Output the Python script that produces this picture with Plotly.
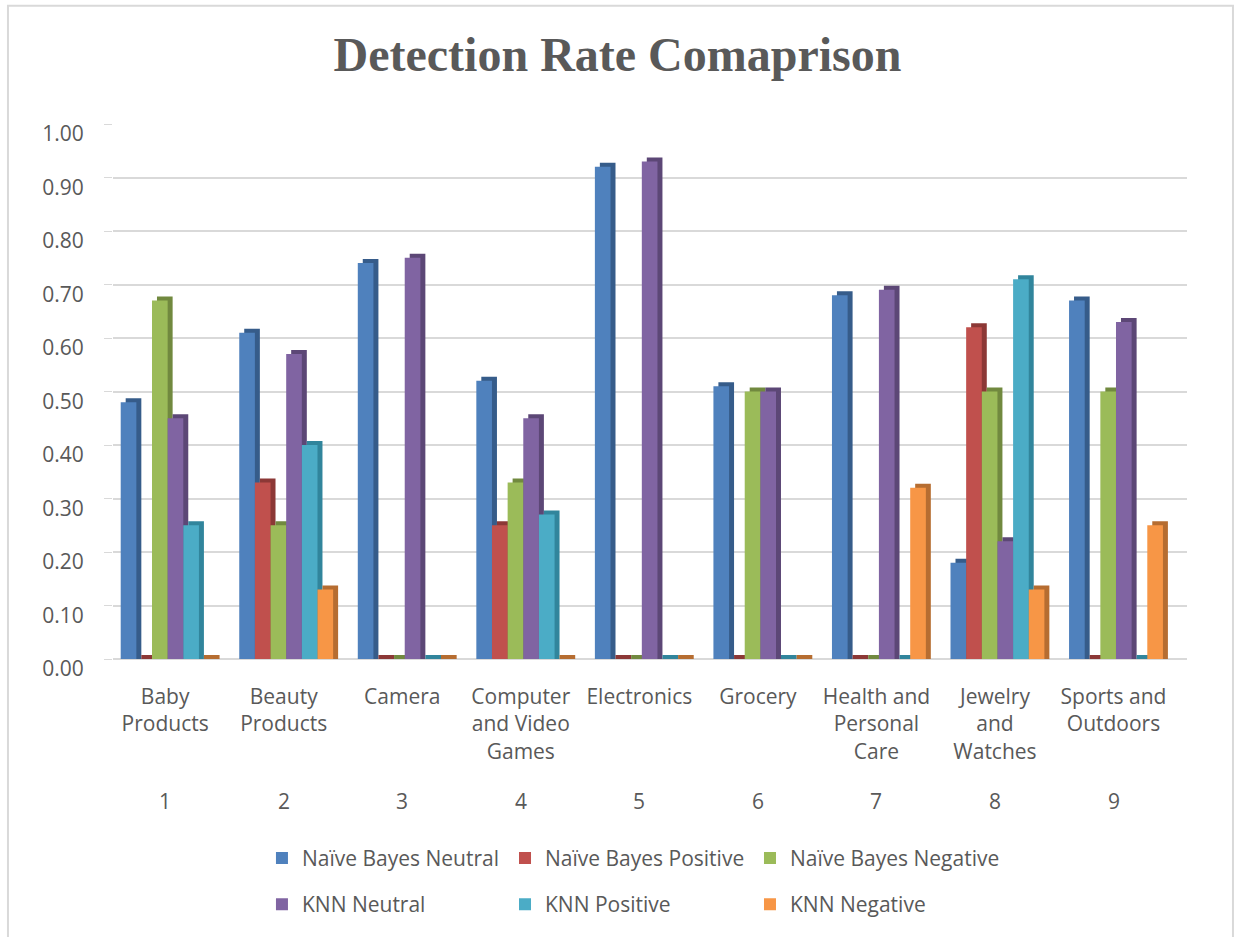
import plotly.graph_objects as go

# ---- data -------------------------------------------------------------
categories = ["Baby<br>Products", "Beauty<br>Products", "Camera",
              "Computer<br>and Video<br>Games", "Electronics", "Grocery",
              "Health and<br>Personal<br>Care", "Jewelry<br>and<br>Watches",
              "Sports and<br>Outdoors"]
category_numbers = ["1", "2", "3", "4", "5", "6", "7", "8", "9"]

series_names = ["Naïve Bayes Neutral", "Naïve Bayes Positive", "Naïve Bayes Negative",
                "KNN Neutral", "KNN Positive", "KNN Negative"]

nb_neutral = [0.48, 0.61, 0.74, 0.52, 0.92, 0.51, 0.68, 0.18, 0.67]
nb_positive = [0.00, 0.33, 0.00, 0.25, 0.00, 0.00, 0.00, 0.62, 0.00]
nb_negative = [0.67, 0.25, 0.00, 0.33, 0.00, 0.50, 0.00, 0.50, 0.50]
knn_neutral = [0.45, 0.57, 0.75, 0.45, 0.93, 0.50, 0.69, 0.22, 0.63]
knn_positive = [0.25, 0.40, 0.00, 0.27, 0.00, 0.00, 0.00, 0.71, 0.00]
knn_negative = [0.00, 0.13, 0.00, 0.00, 0.00, 0.00, 0.32, 0.13, 0.25]

y_ticks = [0.0, 0.1, 0.2, 0.3, 0.4, 0.5, 0.6, 0.7, 0.8, 0.9, 1.0]

# ---- styling ----------------------------------------------------------
front_colors = ["#4F81BD", "#C0504D", "#9BBB59", "#8064A2", "#4BACC6", "#F79646"]
depth_colors = ["#365C8A", "#8C3836", "#71893F", "#5C4776", "#31859C", "#B66D31"]
text_color = "#595959"
grid_color = "#D9D9D9"
font_family = "Open Sans"
font_size = 21

bar_w = 0.132          # width of each column (category units)
first_offset = -0.375  # left edge of the first column relative to the category
depth_dx = 0.042       # 3-D depth, horizontal (category units)
depth_dy = 0.0075      # 3-D depth, vertical (value units)

all_series = [nb_neutral, nb_positive, nb_negative, knn_neutral, knn_positive, knn_negative]
x_pos = list(range(1, len(categories) + 1))
legend_ids = ["legend", "legend2", "legend3"]   # one legend per column of entries

fig = go.Figure()

for i, (name, vals) in enumerate(zip(series_names, all_series)):
    off = first_offset + i * bar_w
    # darker block behind the column gives the side and top faces
    fig.add_trace(go.Bar(
        x=x_pos, y=[v + depth_dy for v in vals],
        width=bar_w, offset=off + depth_dx,
        marker=dict(color=depth_colors[i], line=dict(width=0)),
        showlegend=False, hoverinfo="skip",
    ))
    # front face of the column
    fig.add_trace(go.Bar(
        x=x_pos, y=vals, name=name, legendgroup=name,
        width=bar_w, offset=off,
        marker=dict(color=front_colors[i], line=dict(width=0)),
        legend=legend_ids[i % 3],
    ))

# index row under the category names
for xp, num in zip(x_pos, category_numbers):
    fig.add_annotation(x=xp, y=-0.266, xref="x", yref="paper", text=num,
                       showarrow=False, yanchor="middle",
                       font=dict(family=font_family, size=font_size, color=text_color))

# chart frame
fig.add_shape(type="rect", xref="paper", yref="paper",
              x0=-0.0978, x1=1.0428, y0=-0.6, y1=1.2212,
              line=dict(color=grid_color, width=2), fillcolor="rgba(0,0,0,0)",
              layer="below")

legend_common = dict(orientation="v", xref="paper", yref="paper", y=-0.4155,
                     xanchor="left", yanchor="middle", tracegroupgap=16,
                     bgcolor="rgba(0,0,0,0)",
                     font=dict(family=font_family, size=font_size, color=text_color))

fig.update_layout(
    width=1235, height=937,
    margin=dict(l=113, r=48, t=124, b=275),
    paper_bgcolor="white", plot_bgcolor="white",
    barmode="overlay",
    title=dict(text="<b>Detection Rate Comaprison</b>", x=0.5, xanchor="center",
               xref="container", y=1 - 54 / 937, yref="container", yanchor="middle",
               font=dict(family="Liberation Serif", size=48, color=text_color)),
    xaxis=dict(range=[0.56, 9.62], tickvals=x_pos, ticktext=categories,
               showgrid=False, zeroline=False, showline=False, ticks="",
               ticklabelstandoff=23,
               tickfont=dict(family=font_family, size=font_size, color=text_color)),
    yaxis=dict(range=[0, 1.0], tickvals=y_ticks, tickformat=".2f",
               showgrid=True, gridcolor=grid_color, gridwidth=2,
               zeroline=True, zerolinecolor=grid_color, zerolinewidth=2,
               showline=False, ticks="outside", ticklen=8, tickcolor=grid_color,
               tickwidth=1, ticklabelstandoff=16, ticklabelshift=10,
               tickfont=dict(family=font_family, size=font_size, color=text_color)),
    legend=dict(x=0.1387, **legend_common),
    legend2=dict(x=0.365, **legend_common),
    legend3=dict(x=0.5931, **legend_common),
    showlegend=True,
)

fig.write_html("out.html")
